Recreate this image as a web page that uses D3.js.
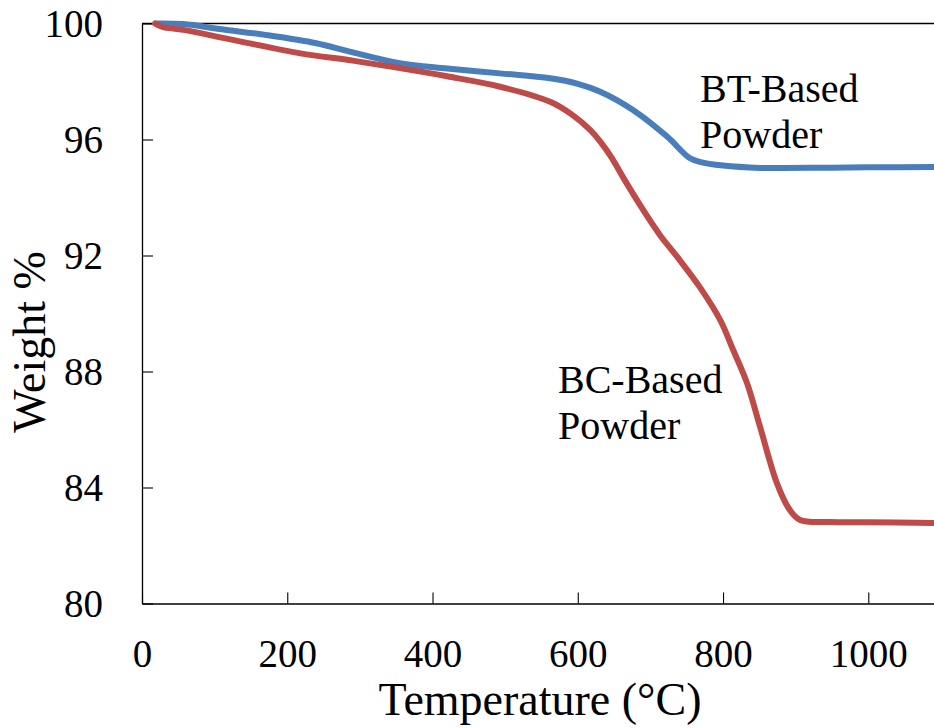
<!DOCTYPE html>
<html>
<head>
<meta charset="utf-8">
<script src="https://cdn.jsdelivr.net/npm/d3@7"></script>
<style>
  html, body { margin: 0; padding: 0; background: #fff; }
  svg { display: block; }
  text { font-family: "Liberation Serif", "Times New Roman", serif; fill: #000; }
</style>
</head>
<body>
<svg id="chart" width="934" height="728"></svg>
<script>
// TGA curves: temperature (°C) vs remaining weight (%)
const btTemp   = [20, 57, 110, 172, 240, 286, 355, 420, 493, 562, 600, 631, 676, 723, 754, 768, 800, 851, 883, 950, 1000, 1090, 1100];
const btWeight = [100, 99.98, 99.8, 99.6, 99.32, 99.03, 98.63, 98.45, 98.28, 98.11, 97.92, 97.65, 97.02, 96.1, 95.36, 95.23, 95.1, 95.02, 95.02, 95.03, 95.04, 95.05, 95.05];

const bcTemp   = [18, 28, 57, 120, 218, 290, 355, 420, 493, 562, 593, 617, 631, 647, 662, 690, 713, 737, 768, 796, 814, 833, 851, 874, 892, 906, 947, 1000, 1090, 1100];
const bcWeight = [100, 99.88, 99.78, 99.46, 98.97, 98.72, 98.46, 98.18, 97.82, 97.3, 96.84, 96.33, 95.93, 95.36, 94.71, 93.57, 92.71, 91.95, 90.91, 89.78, 88.74, 87.6, 86.09, 84.16, 83.22, 82.88, 82.81, 82.8, 82.78, 82.78];

const xTicks = [0, 200, 400, 600, 800, 1000];
const yTicks = [80, 84, 88, 92, 96, 100];

const seriesNames = ["BT-Based Powder", "BC-Based Powder"];
const seriesColors = ["#4A7EBB", "#BE4B48"];

const svg = d3.select("#chart");
const plotLeft = 142, plotTop = 23.5, plotBottom = 603.5;

const x = d3.scaleLinear().domain([0, 1100]).range([plotLeft, plotLeft + 1100 * 0.7263]);
const y = d3.scaleLinear().domain([80, 100]).range([plotBottom, plotTop]);

// frame: top edge (left and bottom come from the axes)
svg.append("line").attr("x1", plotLeft).attr("x2", 934).attr("y1", plotTop).attr("y2", plotTop)
  .attr("stroke", "#000").attr("stroke-width", 1.3);

const xAxis = svg.append("g").attr("transform", `translate(0,${plotBottom})`)
  .call(d3.axisBottom(x).tickValues(xTicks).tickFormat(d3.format("d"))
    .tickSizeInner(-11).tickSizeOuter(0).tickPadding(25));
const yAxis = svg.append("g").attr("transform", `translate(${plotLeft},0)`)
  .call(d3.axisLeft(y).tickValues(yTicks).tickFormat(d3.format("d"))
    .tickSizeInner(-11).tickSizeOuter(0).tickPadding(39));

[xAxis, yAxis].forEach(g => {
  g.select(".domain").attr("stroke", "#000").attr("stroke-width", 1.3);
  g.selectAll(".tick line").attr("stroke", "#000").attr("stroke-width", 1.1);
  g.selectAll(".tick text").attr("font-size", 39)
    .style("font-family", '"Liberation Serif", "Times New Roman", serif').attr("fill", "#000");
});
xAxis.selectAll(".tick text").attr("dy", null).attr("y", 63);
yAxis.selectAll(".tick text").attr("dy", "0.34em");

// axis titles
svg.append("text").attr("x", 540).attr("y", 715).attr("text-anchor", "middle")
  .attr("font-size", 46).text("Temperature (°C)");
svg.append("text").attr("transform", "translate(45,342) rotate(-90)").attr("text-anchor", "middle")
  .attr("font-size", 46).text("Weight %");

// curves
const line = d3.line().x(d => x(d[0])).y(d => y(d[1])).curve(d3.curveCatmullRom.alpha(0.5));
const series = [d3.zip(btTemp, btWeight), d3.zip(bcTemp, bcWeight)];
series.forEach((pts, i) => {
  svg.append("path").datum(pts).attr("d", line)
    .attr("fill", "none").attr("stroke", seriesColors[i]).attr("stroke-width", 6)
    .attr("stroke-linejoin", "round").attr("stroke-linecap", "round");
});

// curve labels
const labelPos = [[700, 102], [558, 393]];
seriesNames.forEach((name, i) => {
  const words = name.split(" ");
  const t = svg.append("text").attr("font-size", 40);
  words.forEach((w, j) => {
    t.append("tspan").attr("x", labelPos[i][0]).attr("y", labelPos[i][1] + j * 46).text(w);
  });
});
</script>
</body>
</html>
